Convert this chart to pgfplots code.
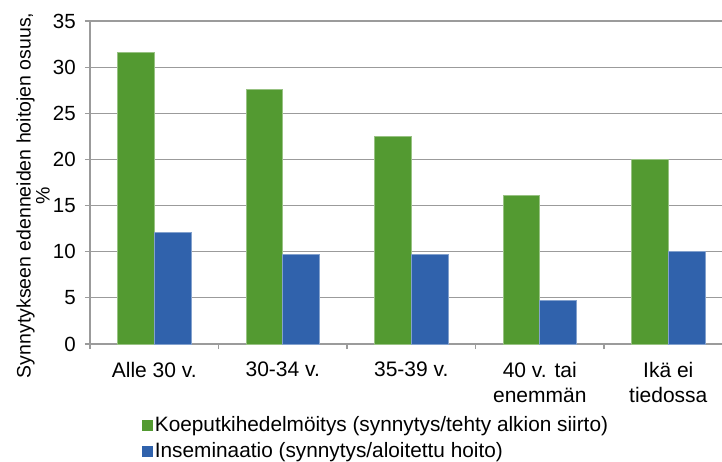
\documentclass[border=0pt]{standalone}
\usepackage{fontspec}
\setmainfont{Liberation Sans}
\usepackage{pgfplots}
\pgfplotsset{compat=1.18}
\definecolor{cgreen}{RGB}{83,154,49}
\definecolor{cblue}{RGB}{48,98,172}
\definecolor{cgrid}{RGB}{155,155,155}
\begin{document}
\fontsize{18}{21}\selectfont
\begin{tikzpicture}
\path[use as bounding box] (-90pt,-117pt) rectangle (632pt,344pt);
\begin{axis}[
  at={(0pt,0pt)}, anchor=south west,
  scale only axis, width=632pt, height=323pt,
  xmin=-0.5, xmax=4.418, ymin=0, ymax=35,
  ybar=0pt, bar width=36.7pt,
  axis x line*=bottom, axis y line*=left,
  axis line style={cgrid, line width=1.2pt},
  xtick={0,1,2,3,4},
  xticklabels={Alle 30 v., 30-34 v., 35-39 v., {40 v. tai\\enemmän}, {Ikä ei\\tiedossa}},
  major x tick style={draw=none},
  minor xtick={-0.5,0.5,1.5,2.5,3.5},
  minor x tick style={cgrid, line width=1.2pt},
  minor tick length=5pt,
  ytick={0,5,...,35},
  major y tick style={cgrid, line width=1.2pt},
  major tick length=5pt,
  tick align=outside,
  ymajorgrids, grid style={cgrid, line width=1.2pt},
  /pgf/number format/assume math mode=true,
  yticklabel style={font=\fontsize{20.5}{22}\selectfont, xshift=-3pt},
  xticklabel style={align=center, font=\fontsize{21}{25}\selectfont, anchor=north, inner sep=0pt, yshift=-13pt},
  ylabel={Synnytykseen edenneiden hoitojen osuus,\\\%},
  every axis y label/.style={at={(axis description cs:0,0.46)}, xshift=-57pt, rotate=90, anchor=center,
    align=center, font=\fontsize{19.5}{19}\selectfont},
  legend style={at={(axis description cs:0.0818,-0.2186)}, anchor=north west, draw=none, fill=none,
    font=\fontsize{20.8}{23}\selectfont, row sep=4pt, inner sep=0pt},
  legend cell align=left,
  legend image code/.code={\fill[#1, draw=none] (0pt,-5.5pt) rectangle (11pt,5.5pt);},
]
\addplot[fill=cgreen, draw=cgreen!60!white, line width=0.6pt] coordinates {(0,31.6) (1,27.6) (2,22.5) (3,16.1) (4,20.0)};
\addplot[fill=cblue, draw=cblue!60!white, line width=0.6pt] coordinates {(0,12.1) (1,9.7) (2,9.7) (3,4.7) (4,10.0)};
\legend{Koeputkihedelmöitys (synnytys/tehty alkion siirto), Inseminaatio (synnytys/aloitettu hoito)}
\end{axis}
\end{tikzpicture}
\end{document}
